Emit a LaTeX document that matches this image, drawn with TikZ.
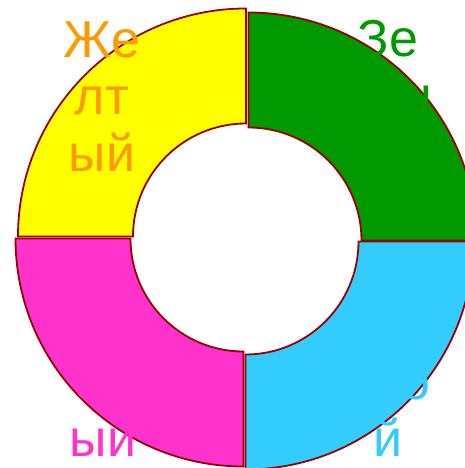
\documentclass[tikz,border=0pt]{standalone}
\usepackage{fontspec}
\newfontfamily\chartfont{Liberation Sans}
\usetikzlibrary{calc}
\definecolor{ringyellow}{HTML}{FFFF00}
\definecolor{ringgreen}{HTML}{009900}
\definecolor{ringcyan}{HTML}{33CCFF}
\definecolor{ringmagenta}{HTML}{FF33CC}
\definecolor{ringorange}{HTML}{FF9900}
\definecolor{ringborder}{HTML}{990000}
\tikzset{
	segment/.style={draw=ringborder, line width=1.8pt, line join=miter},
	chartlabel/.style={font=\chartfont\fontsize{52}{57}\selectfont, align=center, anchor=base, inner sep=0pt}
}

\begin{document}
\begin{tikzpicture}[x=1pt, y=1pt]
		
		% Page frame
		\useasboundingbox (0,0) rectangle (464,468);
		
		% Draw ring segments
		\foreach \a/\b/\col/\cx/\cy in {90/180/ringyellow/246/231.5, 0/90/ringgreen/248.5/227.5, 270/360/ringcyan/245.5/226.5, 180/270/ringmagenta/243.5/229.5}
		\draw[segment, fill=\col] ($(\cx,\cy)+(\a:228)$) arc[start angle=\a, end angle=\b, radius=228]
		-- ($(\cx,\cy)+(\b:113)$) arc[start angle=\b, end angle=\a, radius=113] -- cycle;
		
		% Add labels (anchored at the last line)
		\node[chartlabel, text=ringorange] (yellowlabel) at (102,296) {Же\\лт\\ый};
		\node[chartlabel, text=ringgreen] (greenlabel) at (388,297) {Зе\\лен\\ый};
		\node[chartlabel, text=ringcyan] (cyanlabel) at (388,11) {Гол\\убо\\й};
		\node[chartlabel, text=ringmagenta] (magentalabel) at (103,11) {Роз\\ов\\ый};

	\end{tikzpicture}
\end{document}
